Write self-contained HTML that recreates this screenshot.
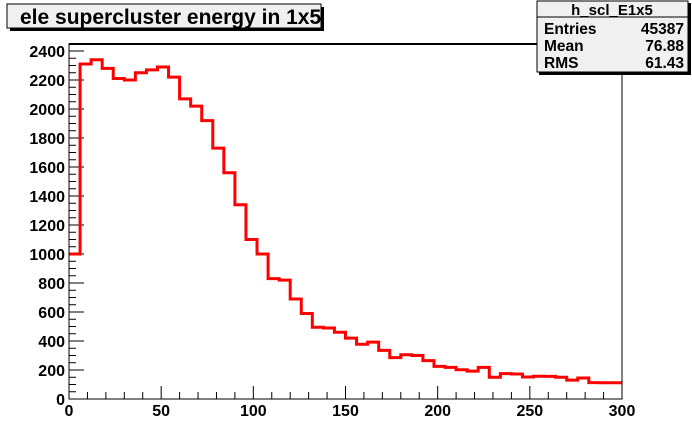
<!DOCTYPE html>
<html><head><meta charset="utf-8"><style>
body{margin:0;background:#fff;}
svg{display:block;font-family:"Liberation Sans",sans-serif;font-weight:bold;}
</style></head><body>
<svg width="692" height="444" viewBox="0 0 692 444" xmlns="http://www.w3.org/2000/svg">
<rect x="0" y="0" width="692" height="444" fill="#fff"/>
<g id="axes"></g>
<path id="hist" fill="none" stroke="#ff0000" stroke-width="3"/>
<rect x="69" y="44" width="553" height="355" fill="none" stroke="#000" stroke-width="1"/>
<line x1="69" y1="44" x2="622" y2="44" stroke="#000" stroke-width="2"/>
<g>
<rect x="10" y="7" width="314" height="24" fill="#000"/>
<rect x="7" y="4" width="314" height="24" fill="#f0f0f0" stroke="#000" stroke-width="1"/>
<text x="20" y="24" font-size="21" fill="#000">ele supercluster energy in 1x5</text>
</g>
<g>
<rect x="539" y="3" width="152" height="72" fill="#000"/>
<rect x="537" y="1" width="151" height="71" fill="#f0f0f0" stroke="#000" stroke-width="1"/>
<line x1="537" y1="17" x2="688" y2="17" stroke="#000"/>
<text x="612" y="15" font-size="15" text-anchor="middle">h_scl_E1x5</text>
<text x="544" y="34" font-size="15.5">Entries</text>
<text x="684" y="34" font-size="15.5" text-anchor="end">45387</text>
<text x="544" y="51" font-size="15.5">Mean</text>
<text x="684" y="51" font-size="15.5" text-anchor="end">76.88</text>
<text x="544" y="68" font-size="15.5">RMS</text>
<text x="684" y="68" font-size="15.5" text-anchor="end">61.43</text>
</g>
</svg>
<script>
const binWidth = 6;
const binStart = 0;
const counts = [1000,2310,2340,2280,2210,2200,2250,2270,2290,2220,
2070,2020,1920,1730,1560,1340,1100,1000,830,820,
690,590,495,490,460,420,378,392,335,285,
305,300,265,225,218,202,192,218,150,175,
172,152,157,156,150,130,145,113,112,112];
const xTicks = [0,50,100,150,200,250,300];
const yTicks = [0,200,400,600,800,1000,1200,1400,1600,1800,2000,2200,2400];
const X0=69,X1=622,Y0=399,YPER=0.145;
const xs=v=>X0+(v-0)*(X1-X0)/300;
const ys=v=>Y0-v*YPER;
let d='M'+xs(binStart)+' '+ys(counts[0]);
counts.forEach((c,i)=>{
  const a=binStart+i*binWidth;
  if(i>0) d+=' L'+xs(a)+' '+ys(c);
  d+=' L'+xs(a+binWidth)+' '+ys(c);
});
document.getElementById('hist').setAttribute('d',d);
const ns='http://www.w3.org/2000/svg';
const g=document.getElementById('axes');
function ln(x1,y1,x2,y2){const l=document.createElementNS(ns,'line');l.setAttribute('x1',x1);l.setAttribute('y1',y1);l.setAttribute('x2',x2);l.setAttribute('y2',y2);l.setAttribute('stroke','#000');


g.appendChild(l);}
function tx(x,y,s,anchor){const t=document.createElementNS(ns,'text');t.setAttribute('x',x);t.setAttribute('y',y);t.setAttribute('font-size','16');t.setAttribute('text-anchor',anchor);t.textContent=s;


g.appendChild(t);}
for(let v=0;v<=300;v+=10){ln(xs(v),Y0,xs(v),Y0-(v%50===0?13:7));}
xTicks.forEach(v=>tx(xs(v),Y0+17,String(v),'middle'));
for(let v=0;v<=2400;v+=50){ln(X0,ys(v),X0+(v%200===0?15:7),ys(v));}
yTicks.forEach(v=>tx(X0-4,ys(v)+6,String(v),'end'));
</script>
</body></html>
